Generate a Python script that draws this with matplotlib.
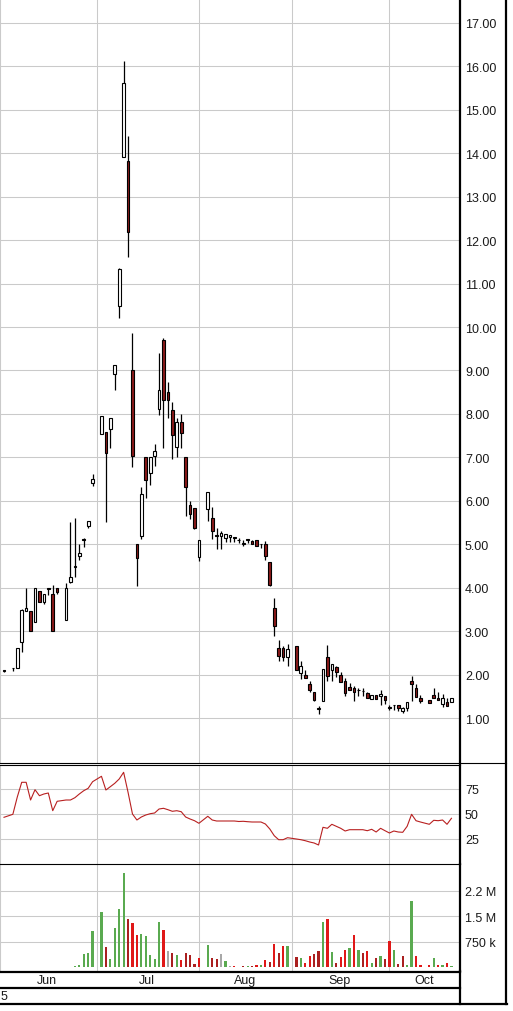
import numpy as np
import matplotlib
matplotlib.use("Agg")
import matplotlib.pyplot as plt
from matplotlib.lines import Line2D
from matplotlib import transforms

plt.rcParams['font.family'] = ['Liberation Sans', 'DejaVu Sans']

# trading-day slot of each candle (gaps = days with no bar)
pos = [0, 2, 3, 4, 5, 6, 7, 8, 9, 10, 11, 12, 14, 15, 16, 17, 18, 19, 20,
       22, 23, 24, 25, 26, 27, 28, 29, 30, 31, 32, 33, 34, 35, 36, 37, 38, 39,
       40, 41, 42, 43, 44, 46, 47, 48, 49, 50, 51, 52, 53, 54, 55, 56, 57, 58,
       59, 60, 61, 62, 63, 64, 66, 67, 68, 69, 70, 71, 72, 73, 74, 75, 76, 77,
       78, 79, 80, 81, 82, 83, 84, 85, 86, 87, 88, 89, 90, 91, 92, 93, 94, 96,
       97, 98, 99, 100, 101]

opens = [2.10, 2.16, 2.15, 2.76, 3.46, 3.46, 3.21, 3.92, 3.68, 3.99, 3.86, 3.99,
         3.25, 4.12, 4.48, 4.74, 5.12, 5.43, 6.40,
         7.53, 7.58, 7.65, 8.91, 10.49, 13.91, 13.82, 9.00, 5.00, 5.20, 7.01,
         6.63, 7.03, 8.11, 9.70, 8.50, 8.09, 7.23, 7.81, 7.00, 5.90, 5.83, 4.70,
         5.81, 5.60, 5.21, 5.20, 5.15, 5.16, 5.17, 5.10, 5.04, 5.11, 5.08, 5.09,
         5.01, 5.00, 4.59, 3.53, 2.61, 2.61, 2.40,
         2.65, 2.03, 1.99, 1.79, 1.59, 1.21, 1.39, 2.40, 2.10, 2.17, 1.98, 1.85,
         1.71, 1.70, 1.65, 1.63, 1.57, 1.43, 1.52, 1.50, 1.50, 1.25, 1.30, 1.30,
         1.16, 1.24, 1.86, 1.68, 1.47,
         1.42, 1.52, 1.47, 1.33, 1.36, 1.36]
highs = [2.10, 2.16, 2.61, 3.50, 3.99, 3.46, 3.99, 3.92, 3.85, 3.99, 4.07, 3.99,
         4.11, 5.51, 5.60, 5.00, 5.14, 5.54, 6.61,
         7.95, 7.58, 7.90, 9.12, 11.36, 16.13, 14.40, 9.86, 5.00, 6.31, 7.01,
         7.01, 7.30, 9.40, 9.75, 8.73, 8.27, 7.90, 7.99, 7.00, 5.99, 5.83, 5.09,
         6.20, 5.85, 5.37, 5.31, 5.24, 5.22, 5.17, 5.14, 5.10, 5.11, 5.10, 5.09,
         5.01, 5.07, 4.59, 3.76, 2.79, 2.65, 2.70,
         2.65, 2.31, 2.10, 1.85, 1.59, 1.28, 2.14, 2.69, 2.24, 2.20, 2.07, 1.92,
         1.81, 1.73, 1.70, 1.68, 1.61, 1.52, 1.52, 1.64, 1.50, 1.30, 1.30, 1.30,
         1.25, 1.37, 1.96, 1.79, 1.52,
         1.42, 1.68, 1.59, 1.55, 1.45, 1.45]
lows = [2.06, 2.09, 2.15, 2.53, 3.46, 3.00, 3.21, 3.68, 3.63, 3.84, 3.00, 3.86,
        3.25, 4.10, 4.25, 4.64, 4.94, 5.38, 6.35,
        7.53, 5.51, 7.21, 8.54, 10.20, 13.91, 11.61, 6.78, 4.05, 5.11, 6.07,
        6.37, 6.80, 7.98, 7.21, 7.91, 6.96, 7.00, 7.21, 5.64, 5.58, 5.34, 4.61,
        5.54, 5.12, 4.89, 4.89, 5.06, 5.05, 5.05, 5.03, 4.97, 5.02, 5.00, 4.95,
        4.91, 4.63, 4.03, 2.88, 2.32, 2.32, 2.19,
        2.11, 1.89, 1.91, 1.59, 1.39, 1.09, 1.39, 1.86, 1.85, 1.94, 1.83, 1.50,
        1.64, 1.39, 1.50, 1.50, 1.47, 1.43, 1.43, 1.31, 1.32, 1.19, 1.18, 1.16,
        1.11, 1.16, 1.40, 1.49, 1.34,
        1.34, 1.45, 1.41, 1.25, 1.28, 1.36]
closes = [2.09, 2.15, 2.61, 3.49, 3.53, 3.00, 3.99, 3.68, 3.85, 3.96, 3.00, 3.89,
          3.99, 4.24, 4.50, 4.80, 5.10, 5.54, 6.50,
          7.95, 7.09, 7.90, 9.12, 11.34, 15.61, 12.18, 7.04, 4.69, 6.16, 6.49,
          7.01, 7.14, 8.54, 8.31, 8.31, 7.51, 7.81, 7.55, 6.31, 5.69, 5.37, 5.09,
          6.20, 5.30, 5.20, 5.25, 5.24, 5.22, 5.15, 5.10, 5.01, 5.10, 5.00, 4.95,
          5.00, 4.72, 4.06, 3.11, 2.42, 2.40, 2.58,
          2.11, 2.19, 1.91, 1.65, 1.41, 1.22, 2.14, 1.97, 2.24, 2.06, 1.83, 1.57,
          1.64, 1.59, 1.64, 1.62, 1.47, 1.52, 1.43, 1.56, 1.41, 1.24, 1.29, 1.22,
          1.24, 1.36, 1.79, 1.49, 1.39,
          1.34, 1.45, 1.41, 1.47, 1.28, 1.45]

# RSI(14)
rsi = [46.7, 49.7, 67.0, 81.7, 81.7, 64.0, 74.3, 68.3, 70.0, 71.0, 53.3, 62.7,
       64.0, 64.0, 66.3, 70.0, 73.3, 75.7, 82.3,
       87.7, 74.0, 77.3, 80.7, 85.0, 91.7, 71.7, 50.0, 44.0, 47.0, 49.0,
       50.3, 51.0, 55.0, 55.7, 54.3, 52.7, 53.3, 52.3, 47.0, 45.0, 43.3, 40.7,
       47.7, 44.0, 43.0, 43.0, 43.0, 43.0, 43.0, 42.5, 42.7, 42.3, 42.0, 42.0,
       42.0, 40.0, 35.0, 28.3, 24.3, 24.3, 26.3,
       25.0, 24.3, 23.3, 22.0, 21.0, 19.0, 36.7, 35.7, 39.7, 37.7, 35.7, 33.0,
       34.3, 34.3, 34.3, 34.3, 33.3, 34.7, 32.0, 35.7, 33.3, 31.0, 33.0, 32.0,
       31.7, 37.7, 49.7, 43.3, 42.0,
       39.7, 43.7, 43.3, 44.0, 39.7, 45.7]

# volume (thousands of shares) and bar colour code
volume = [20, 20, 20, 20, 20, 20, 20, 20, 20, 20, 20, 20,
          20, 20, 40, 65, 380, 418, 1060,
          1620, 594, 241, 1150, 1710, 2770, 1420, 1300, 950, 980, 920,
          360, 240, 1330, 1090, 480, 420, 360, 210, 420, 360, 90, 270,
          650, 270, 240, 390, 180, 40, 30, 20, 30, 30, 30, 50,
          50, 220, 160, 690, 430, 630, 630,
          310, 280, 130, 330, 400, 490, 1340, 1420, 460, 130, 310, 510,
          570, 960, 510, 430, 490, 130, 280, 340, 250, 780, 510, 100,
          330, 70, 1950, 330, 60,
          60, 280, 70, 70, 130, 40]
vol_col = ['r', 'g', 'g', 'g', 'g', 'r', 'g', 'r', 'g', 'r', 'g', 'g',
           'g', 'g', 'g', 'g', 'g', 'g', 'g',
           'g', 'd', 'g', 'g', 'g', 'g', 'd', 'r', 'r', 'g', 'g',
           'g', 'g', 'g', 'r', 'k', 'd', 'g', 'r', 'd', 'd', 'd', 'r',
           'g', 'd', 'd', 'k', 'g', 'k', 'r', 'r', 'd', 'g', 'd', 'r',
           'g', 'r', 'd', 'r', 'd', 'r', 'g',
           'd', 'g', 'r', 'r', 'd', 'd', 'g', 'r', 'g', 'd', 'r', 'r',
           'g', 'r', 'g', 'd', 'r', 'g', 'd', 'g', 'd', 'r', 'g', 'd',
           'd', 'g', 'g', 'r', 'r',
           'r', 'g', 'r', 'g', 'r', 'g']
palette = {'g': '#5aaa50', 'r': '#e01818', 'd': '#aa2020', 'k': '#a8a8a8'}

price_ticks = list(range(1, 18))
rsi_ticks = [25, 50, 75]
vol_ticks = [750, 1500, 2250]
vol_labels = ['750 k', '1.5 M', '2.2 M']
grid_slots = [21, 44, 65, 87]
months = ['Jun', 'Jul', 'Aug', 'Sep', 'Oct']
month_slots = [9.7, 32.3, 54.4, 75.8, 94.8]

W, H = 513, 1012
GRID = '#cacaca'
TXT = '#1a1a1a'
FS = 9


def rect(x0, y0, x1, y1):
    return [x0 / W, 1 - y1 / H, (x1 - x0) / W, (y1 - y0) / H]


fig = plt.figure(figsize=(W / 100, H / 100), dpi=100)
ax_p = fig.add_axes(rect(0, 0, 460, 764))
ax_r = fig.add_axes(rect(0, 766, 460, 865))
ax_v = fig.add_axes(rect(0, 865, 460, 972))

x = np.array(pos, dtype=float)
o = np.array(opens)
c = np.array(closes)
up = c >= o

# price panel
ax_p.vlines(x, lows, highs, color='black', lw=0.9, zorder=2)
ax_p.bar(x, np.abs(c - o), bottom=np.minimum(o, c), width=0.6,
         color=np.where(up, 'white', '#8b1a1a'), edgecolor='black',
         linewidth=0.8, zorder=3)
ax_p.set_ylim(-0.035, 17.55)
ax_p.set_yticks(price_ticks)
ax_p.set_yticklabels([f'{t:.2f}' for t in price_ticks])

# RSI panel
ax_r.plot(x, rsi, color='#b82020', lw=0.8, zorder=3)
ax_r.set_ylim(0, 99)
ax_r.set_yticks(rsi_ticks)

# volume panel
ax_v.bar(x, volume, width=0.5, color=[palette[k] for k in vol_col], zorder=3)
ax_v.set_ylim(-112, 3035)
ax_v.set_yticks(vol_ticks)
ax_v.set_yticklabels(vol_labels)

for ax in (ax_p, ax_r, ax_v):
    ax.set_xlim(-0.903, 102.93)
    ax.set_xticks(grid_slots)
    ax.tick_params(axis='x', length=0, labelbottom=False)
    ax.yaxis.tick_right()
    ax.tick_params(axis='y', length=0, pad=3.6, labelsize=FS, labelcolor=TXT)
    ax.grid(True, color=GRID, lw=0.75, zorder=0)
    ax.set_axisbelow(True)
    ax.spines['top'].set_visible(False)
    ax.spines['bottom'].set_visible(False)
    ax.spines['left'].set_color(GRID)
    ax.spines['right'].set_color('black')
    ax.spines['right'].set_linewidth(1.6)

ax_r.spines['top'].set_visible(True)
ax_r.spines['top'].set_linewidth(0.8)
ax_v.spines['top'].set_visible(True)
ax_v.spines['top'].set_linewidth(0.8)

# month labels under the volume panel
trans = transforms.blended_transform_factory(ax_v.transData, fig.transFigure)
for m, s in zip(months, month_slots):
    ax_v.text(s, 1 - 981 / H, m, transform=trans, ha='center', va='center',
              fontsize=FS, color=TXT)
fig.text(0.5 / W, 1 - 997 / H, '5', ha='left', va='center', fontsize=FS,
         color=TXT)


def hline(y, x0, x1, lw):
    fig.add_artist(Line2D([x0 / W, x1 / W], [1 - y / H, 1 - y / H],
                          transform=fig.transFigure, color='black', lw=lw))


def vline(xp, y0, y1, lw):
    fig.add_artist(Line2D([xp / W, xp / W], [1 - y0 / H, 1 - y1 / H],
                          transform=fig.transFigure, color='black', lw=lw))


hline(764, 0, 506, 0.8)
hline(972.5, 0, 460, 1.6)
hline(989, 0, 460, 1.6)
hline(1005, 0, 507, 1.6)
vline(460, 972, 1005, 1.6)
vline(506, 0, 1005, 1.6)

fig.savefig('out.png', dpi=100)
